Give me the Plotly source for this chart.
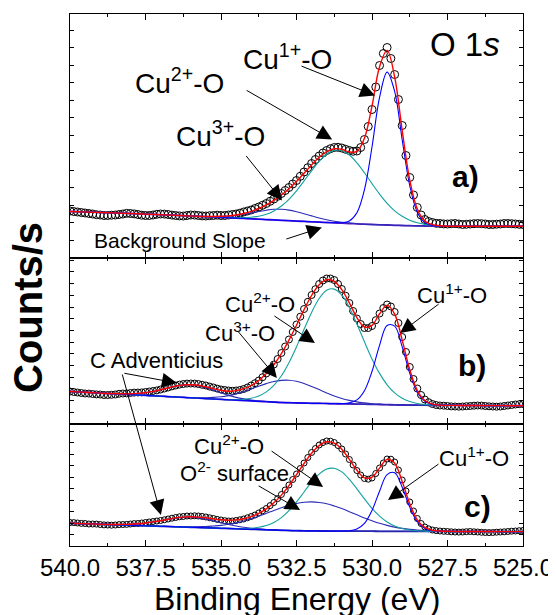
import numpy as np
import plotly.graph_objects as go
from plotly.subplots import make_subplots

# ---------------- binding-energy grids (eV) ----------------
E_HIGH, E_LOW = 540.0, 525.0
FIT_STEP = 0.25      # grid of the fitted curves
PTS_STEP = 0.125     # grid of the measured points
energy = np.round(np.arange(E_HIGH, E_LOW - 0.001, -FIT_STEP), 3)      # 61
energy_pts = np.round(np.arange(E_HIGH, E_LOW - 0.001, -PTS_STEP), 3)  # 121

# ---------------- panel a) ----------------
bg_a = [46.0, 45.8, 45.5, 45.3, 45.0, 44.8, 44.5, 44.3, 44.0, 43.7,
        43.4, 43.1, 42.8, 42.5, 42.2, 41.8, 41.5, 41.2, 40.8, 40.5,
        40.2, 39.8, 39.4, 39.1, 38.7, 38.3, 37.9, 37.6, 37.2, 36.8,
        36.4, 36.1, 35.7, 35.4, 35.0, 34.7, 34.3, 34.0, 33.6, 33.3,
        33.0, 32.7, 32.5, 32.2, 32.0, 31.8, 31.6, 31.5, 31.4, 31.3,
        31.3, 31.3, 31.3, 31.3, 31.3, 31.3, 31.3, 31.3, 31.3, 31.3, 31.3]
data_a = [46.5, 46.0, 45.5, 45.0, 44.5, 44.0, 43.5, 42.8, 42.5, 42.0,
          42.0, 42.3, 42.5, 43.0, 43.5, 44.2, 44.0, 43.6, 43.0, 42.3,
          42.0, 42.0, 42.5, 43.2, 43.5, 43.4, 43.0, 42.4, 42.0, 41.6,
          41.5, 42.0, 42.5, 42.4, 42.0, 41.6, 41.5, 41.8, 42.0, 42.3,
          42.0, 42.0, 42.5, 43.0, 43.5, 44.3, 45.5, 46.5, 47.5, 49.0,
          50.5, 52.2, 54.0, 56.2, 58.5, 61.2, 64.0, 67.0, 70.0, 73.5,
          77.0, 81.2, 85.5, 89.8, 94.0, 98.0, 101.5, 104.5, 107.0, 108.8,
          110.0, 110.2, 109.5, 108.2, 107.0, 106.2, 106.5, 110.0, 118.0, 131.0,
          148.0, 170.5, 192.0, 204.0, 210.0, 199.0, 183.0, 158.0, 132.0, 102.0,
          80.0, 62.5, 50.0, 42.5, 38.0, 36.0, 35.0, 34.2, 34.0, 33.6,
          33.5, 33.8, 34.0, 33.5, 33.0, 33.2, 33.5, 33.8, 34.0, 33.8,
          33.5, 33.0, 33.0, 33.3, 33.5, 34.0, 34.0, 33.8, 33.5, 33.2, 33.0]
cu3_a_from = 535.5
cu3_a = [0.2, 0.5, 0.9, 1.6, 2.7, 4.1, 5.9, 7.7, 9.4, 10.6, 11.0, 10.6, 9.4,
         7.7, 5.9, 4.1, 2.7, 1.6, 0.9, 0.5, 0.2]
cu2_a_from = 535.0
cu2_a = [0.1, 0.2, 0.4, 0.8, 1.6, 3.0, 5.3, 9.0, 14.3, 21.4, 30.3, 40.5, 51.0,
         60.8, 68.3, 72.4, 72.5, 68.5, 61.1, 51.5, 40.9, 30.7, 21.7, 14.5, 9.2,
         5.5, 3.1, 1.6, 0.8, 0.4]
cu1_a_from = 531.25
cu1_a = [0.1, 0.5, 2.6, 11.2, 34.5, 77.5, 127.4, 152.9, 133.9, 85.7, 40.1,
         13.7, 3.4, 0.6, 0.1]

# ---------------- panel b) ----------------
bg_b = [32.5, 32.1, 31.7, 31.3, 30.9, 30.5, 30.2, 29.8, 29.4, 29.0,
        28.6, 28.2, 27.8, 27.4, 27.0, 26.6, 26.2, 25.8, 25.4, 25.0,
        24.6, 24.2, 23.9, 23.5, 23.1, 22.7, 22.3, 21.9, 21.5, 21.3,
        21.1, 20.9, 20.7, 20.6, 20.5, 20.3, 20.2, 20.1, 19.9, 19.8,
        19.6, 19.5, 19.3, 19.2, 19.0, 18.9, 18.8, 18.8, 18.7, 18.7,
        18.6, 18.6, 18.5, 18.5, 18.5, 18.4, 18.4, 18.4, 18.3, 18.3, 18.3]
data_b = [32.5, 32.0, 31.5, 31.0, 30.5, 30.4, 30.0, 29.6, 29.5, 29.0,
          29.0, 29.2, 29.5, 30.2, 30.5, 30.6, 31.0, 31.4, 31.5, 31.6,
          32.0, 32.5, 33.0, 33.6, 34.5, 35.5, 36.5, 37.6, 38.5, 39.4,
          40.0, 40.4, 40.5, 40.4, 40.0, 39.2, 38.5, 37.4, 36.5, 35.4,
          34.5, 34.0, 33.5, 33.2, 33.5, 34.0, 35.0, 36.5, 38.5, 40.8,
          43.5, 46.8, 50.5, 54.8, 59.5, 65.0, 71.0, 77.5, 84.5, 92.0,
          99.5, 107.3, 115.0, 122.2, 129.0, 134.8, 140.0, 143.5, 145.5, 145.5,
          144.0, 140.0, 135.0, 128.3, 121.0, 113.0, 105.5, 100.0, 96.0, 96.0,
          98.0, 103.8, 110.5, 116.0, 119.5, 117.5, 112.0, 101.0, 87.0, 72.0,
          57.0, 45.0, 35.5, 29.0, 24.5, 21.8, 20.0, 19.0, 18.5, 18.3,
          18.0, 17.6, 17.5, 17.3, 17.5, 17.8, 18.0, 18.3, 18.5, 18.4,
          18.0, 17.7, 17.5, 17.3, 17.5, 18.0, 18.5, 19.0, 19.5, 19.8, 20.0]
cadv_b_from = 538.5
cadv_b = [0.2, 0.4, 0.8, 1.6, 2.7, 4.4, 6.5, 8.8, 10.9, 12.5, 13.0, 12.5, 10.9,
          8.8, 6.5, 4.4, 2.7, 1.6, 0.8, 0.4, 0.2]
cu3_b_from = 535.75
cu3_b = [0.5, 0.9, 1.6, 2.6, 4.2, 6.2, 8.9, 11.9, 15.1, 18.1, 20.6, 22.1, 22.5,
         21.6, 19.7, 16.9, 13.8, 10.6, 7.7, 5.3, 3.5, 2.2, 1.3, 0.7, 0.4, 0.2, 0.1]
cu2_b_from = 534.5
cu2_b = [0.6, 1.3, 2.7, 5.3, 9.8, 16.7, 26.7, 40.0, 56.1, 73.8, 90.9, 104.9,
         113.3, 114.6, 108.6, 96.5, 80.1, 62.4, 45.5, 31.1, 19.9, 11.9, 6.7,
         3.5, 1.7, 0.8, 0.3]
cu1_b_from = 531.0
cu1_b = [0.2, 1.0, 4.2, 13.5, 32.9, 59.2, 79.2, 78.7, 58.2, 31.9, 13.0, 3.9,
         0.9, 0.2]

# ---------------- panel c) ----------------
bg_c = [22.7, 22.5, 22.2, 22.0, 21.7, 21.5, 21.2, 21.0, 20.7, 20.5,
        20.2, 20.0, 19.7, 19.5, 19.2, 19.0, 18.7, 18.5, 18.2, 18.0,
        17.7, 17.5, 17.2, 17.0, 16.7, 16.5, 16.2, 16.0, 15.7, 15.5,
        15.3, 15.2, 15.1, 15.0, 15.0, 14.9, 14.9, 14.8, 14.8, 14.8,
        14.8, 14.7, 14.7, 14.7, 14.7, 14.6, 14.6, 14.6, 14.6, 14.6,
        14.5, 14.5, 14.5, 14.5, 14.5, 14.5, 14.5, 14.4, 14.4, 14.4, 14.4]
data_c = [23.5, 23.4, 23.0, 22.6, 22.5, 22.0, 22.0, 21.9, 21.5, 21.1,
          21.0, 20.8, 21.0, 21.4, 21.5, 21.6, 22.0, 22.4, 22.5, 23.0,
          23.5, 24.0, 24.5, 25.0, 25.5, 26.2, 27.0, 27.8, 28.5, 29.2,
          29.5, 30.0, 30.0, 30.2, 30.0, 29.6, 29.0, 28.2, 27.5, 26.6,
          26.0, 25.3, 25.0, 25.0, 25.5, 26.2, 27.0, 28.2, 29.5, 31.0,
          33.0, 35.2, 37.5, 40.4, 43.5, 47.4, 51.5, 56.0, 61.0, 66.5,
          72.0, 77.5, 83.0, 88.5, 93.5, 97.5, 101.0, 103.5, 105.0, 104.8,
          103.5, 100.5, 97.0, 92.0, 86.5, 81.0, 75.5, 71.0, 67.5, 66.8,
          68.0, 72.5, 78.0, 83.0, 87.0, 86.8, 84.0, 76.0, 66.0, 55.0,
          44.0, 35.0, 27.5, 22.5, 19.0, 17.2, 16.0, 15.4, 15.0, 14.7,
          14.5, 14.2, 14.0, 13.9, 14.0, 14.3, 14.5, 14.2, 14.0, 13.7,
          13.5, 13.4, 13.5, 13.8, 14.0, 14.2, 14.5, 14.8, 15.0, 15.3, 15.5]
cadv_c_from = 538.75
cadv_c = [0.1, 0.3, 0.6, 1.0, 1.7, 2.8, 4.1, 5.6, 7.2, 8.7, 9.6, 10.0, 9.6, 8.7,
          7.2, 5.6, 4.1, 2.8, 1.7, 1.0, 0.6, 0.3, 0.1]
o2_c_from = 536.5
o2_c = [0.2, 0.3, 0.5, 0.8, 1.3, 2.0, 2.9, 4.2, 5.9, 8.0, 10.5, 13.3, 16.4, 19.5,
        22.5, 25.1, 27.2, 28.5, 29.0, 28.5, 27.2, 25.1, 22.5, 19.5, 16.4, 13.3,
        10.5, 8.0, 5.9, 4.2, 2.9, 2.0, 1.3, 0.8, 0.5, 0.3, 0.2, 0.1]
cu2_c_from = 534.5
cu2_c = [0.2, 0.5, 1.1, 2.2, 4.2, 7.6, 12.7, 19.8, 28.8, 38.8, 48.7, 56.9, 62.0,
         62.8, 59.2, 51.9, 42.4, 32.3, 22.8, 15.1, 9.3, 5.3, 2.8, 1.4, 0.6, 0.3, 0.1]
cu1_c_from = 531.0
cu1_c = [0.1, 0.4, 2.2, 7.8, 20.7, 40.1, 56.7, 58.5, 44.1, 24.3, 9.7, 2.9, 0.6, 0.1]

PANEL_TOP = [243.5, 166.5, 122.0]     # y-range of each panel (a.u.)
Y_DTICK = [17.5, 11.7, 11.5]


def on_grid(first_energy, values):
    """Place a component's listed values on the fit energy grid."""
    arr = np.zeros(len(energy))
    i0 = int(round((E_HIGH - first_energy) / FIT_STEP))
    arr[i0:i0 + len(values)] = values
    return arr


FONT = "Arial, 'Liberation Sans', sans-serif"
BLUE = "#0000ff"
TEAL = "#13a0a0"
NAVY = "#2b2bb5"
PURPLE = "#5a1cc4"

panels = [
    dict(bg=bg_a, data=data_a, msize=8, bgcol=PURPLE,
         comps=[(cu3_a_from, cu3_a, NAVY), (cu2_a_from, cu2_a, TEAL),
                (cu1_a_from, cu1_a, BLUE)]),
    dict(bg=bg_b, data=data_b, msize=7, bgcol=PURPLE,
         comps=[(cadv_b_from, cadv_b, NAVY), (cu3_b_from, cu3_b, NAVY),
                (cu2_b_from, cu2_b, TEAL), (cu1_b_from, cu1_b, BLUE)]),
    dict(bg=bg_c, data=data_c, msize=6, bgcol="#1c1caa",
         comps=[(cadv_c_from, cadv_c, NAVY), (o2_c_from, o2_c, NAVY),
                (cu2_c_from, cu2_c, TEAL), (cu1_c_from, cu1_c, BLUE)]),
]

fig = make_subplots(rows=3, cols=1, shared_xaxes=True, vertical_spacing=0)

for r, p in enumerate(panels, start=1):
    bg = np.array(p["bg"])
    comps = [(on_grid(f, v), c) for f, v, c in p["comps"]]
    fit = bg + sum(c for c, _ in comps)
    fig.add_trace(go.Scatter(x=energy_pts, y=p["data"], mode="markers",
                             marker=dict(symbol="circle-open", size=p["msize"],
                                         color="black", line=dict(width=1)),
                             showlegend=False), row=r, col=1)
    fig.add_trace(go.Scatter(x=energy, y=bg, mode="lines", line_shape="spline",
                             line=dict(color=p["bgcol"], width=1.8),
                             showlegend=False), row=r, col=1)
    for comp, col in comps:
        fig.add_trace(go.Scatter(x=energy, y=bg + comp, mode="lines",
                                 line_shape="spline",
                                 line=dict(color=col, width=1.1),
                                 showlegend=False), row=r, col=1)
    fig.add_trace(go.Scatter(x=energy, y=fit, mode="lines", line_shape="spline",
                             line=dict(color="red", width=1.4),
                             showlegend=False), row=r, col=1)

# axis geometry
H = 532.0
domains = [[288.5 / H, 1.0], [122.0 / H, 288.5 / H], [0.0, 122.0 / H]]
for r in range(3):
    ya = "yaxis" if r == 0 else f"yaxis{r + 1}"
    xa = "xaxis" if r == 0 else f"xaxis{r + 1}"
    fig.layout[ya].update(domain=domains[r], range=[0, PANEL_TOP[r]],
                          showticklabels=False, ticks="inside", ticklen=4,
                          tickcolor="black", tick0=0, dtick=Y_DTICK[r],
                          showline=True, linecolor="black", linewidth=1,
                          mirror="allticks", showgrid=False, zeroline=False)
    fig.layout[xa].update(range=[E_HIGH, E_LOW], showticklabels=(r == 2),
                          ticks="inside", ticklen=6, tickcolor="black",
                          tick0=525, dtick=2.5, tickformat=".1f",
                          minor=dict(ticks="inside", ticklen=3, dtick=1.25,
                                     tickcolor="black"),
                          showline=True, linecolor="black", linewidth=1,
                          mirror="allticks", showgrid=False, zeroline=False,
                          tickfont=dict(family=FONT, size=24, color="black"))

ann = []


def label(text, x, y, ref, size, bold=False):
    ann.append(dict(text=f"<b>{text}</b>" if bold else text, x=x, y=y,
                    xref=f"x{ref}", yref=f"y{ref}", showarrow=False,
                    xanchor="center", yanchor="middle",
                    font=dict(family=FONT, size=size, color="black")))


def arrow(x, y, ref, ax, ay):
    ann.append(dict(text="", x=x, y=y, xref=f"x{ref}", yref=f"y{ref}",
                    ax=ax, ay=ay, showarrow=True, arrowhead=2, arrowsize=3,
                    arrowwidth=1, arrowcolor="black", standoff=0))


# panel a
label("O 1<i>s</i>", 526.92, 213, "", 33)
label("a)", 526.92, 81, "", 30, bold=True)
label("Cu<sup>1+</sup>-O", 532.81, 201, "", 28)
label("Cu<sup>2+</sup>-O", 536.36, 177, "", 28)
label("Cu<sup>3+</sup>-O", 535.03, 124, "", 28)
label("Background Slope", 536.36, 17, "", 21)
arrow(529.90, 162, "", -75, -30)
arrow(531.32, 118, "", -87, -50)
arrow(532.98, 57, "", -37, -46)
arrow(531.66, 30, "", -37, 12)
# panel b
label("C Adventicius", 537.12, 64, "2", 22)
label("Cu<sup>3+</sup>-O", 534.37, 92.5, "2", 22)
label("Cu<sup>2+</sup>-O", 533.71, 121.5, "2", 22)
label("Cu<sup>1+</sup>-O", 527.35, 130, "2", 22)
label("b)", 526.69, 59, "2", 30, bold=True)
arrow(536.46, 41, "2", -54, -10)
arrow(533.15, 46, "2", -40, -48)
arrow(531.89, 81, "2", -42, -28)
arrow(529.07, 91, "2", 40, -30)
# panel c
label("Cu<sup>2+</sup>-O", 534.74, 101.5, "3", 22)
label("O<sup>2-</sup> surface", 534.54, 74.5, "3", 22)
label("Cu<sup>1+</sup>-O", 526.62, 89, "3", 22)
label("c)", 526.52, 40, "3", 30, bold=True)
arrow(536.99, 31, "3", -39, -142)
arrow(531.62, 59, "3", -53, -37)
arrow(532.38, 36, "3", -43, -25)
arrow(529.47, 46, "3", 52, -37)

# axis titles
ann.append(dict(text="<b>Counts/s</b>", x=-0.0927, y=(546 - 308) / H,
                xref="paper", yref="paper", showarrow=False, textangle=-90,
                xanchor="center", yanchor="middle",
                font=dict(family=FONT, size=40, color="black")))
ann.append(dict(text="Binding Energy (eV)", x=0.5, y=(546 - 599) / H,
                xref="paper", yref="paper", showarrow=False,
                xanchor="center", yanchor="middle",
                font=dict(family=FONT, size=32, color="black")))

# the page body adds an 8 px offset; margins compensate so the frame sits
# at the same window position as in the reference
fig.update_layout(width=556, height=615, autosize=False,
                  margin=dict(l=62, r=41, t=6, b=77),
                  paper_bgcolor="white", plot_bgcolor="white",
                  annotations=ann, showlegend=False)

fig.write_html("out.html")
